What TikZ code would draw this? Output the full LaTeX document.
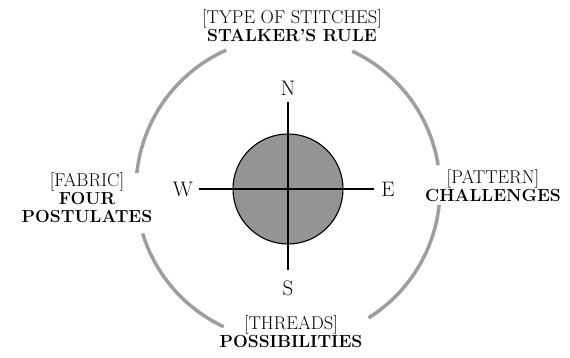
\documentclass[tikz,border=0pt]{standalone}
\usepackage{xcolor}
\usepackage{tikz}
\usetikzlibrary{positioning}
\newcommand{\headword}[1]{{\fontsize{17.5}{18}\selectfont\bfseries #1}}

\begin{document}
\begin{tikzpicture}[x=1pt, y=1pt, label/.style={align=center, font=\fontsize{18.5}{18}\selectfont, inner sep=0pt}, point/.style={font=\fontsize{21}{24}\selectfont, inner sep=3pt}, ring/.style={line width=3.5pt, black!38}, cross/.style={line width=1.1pt}]
\useasboundingbox (-288,-169) rectangle (282,189);
\coordinate (c) at (0,0);
\node[circle, draw, line width=1.1pt, fill=black!42, minimum size=110pt] (globe) at (c) {};
\node[point] (N) at (0,101) {N};
\node[point] (S) at (0,-99) {S};
\node[point] (W) at (-105,0) {W};
\node[point] (E) at (100,0) {E};
\draw[cross, shorten <=4pt, shorten >=7pt] (N)--(S);
\draw[cross, shorten <=3pt, shorten >=4pt] (W)--(E);
% outer ring, broken at the four labels
\draw[ring] (65:152) arc (65:9:152);
\draw[ring] (-6:152) arc (-6:-58:152);
\draw[ring] (114:152) arc (114:174:152);
\draw[ring] (197:152) arc (197:245:152);
\node[label] (stitches) at (4,163) {[TYPE OF STITCHES]\\\headword{STALKER'S RULE}};
\node[label] (fabric) at (-201,-9) {[FABRIC]\\\headword{FOUR}\\\headword{POSTULATES}};
\node[label] (pattern) at (205,3) {[PATTERN]\\\headword{CHALLENGES}};
\node[label] (threads) at (3,-143) {[THREADS]\\\headword{POSSIBILITIES}};
\end{tikzpicture}
\end{document}
